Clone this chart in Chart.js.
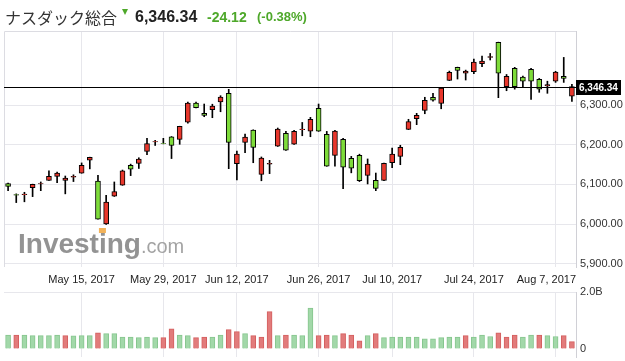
<!DOCTYPE html>
<html lang="ja">
<head>
<meta charset="UTF-8">
<title>ナスダック総合</title>
<script src="https://cdn.jsdelivr.net/npm/chart.js"></script>
<style>
  html, body { margin: 0; padding: 0; background: #fff; }
  #wrap { position: relative; width: 625px; height: 361px; overflow: hidden; }
  .h { position: absolute; white-space: nowrap; line-height: 16px; }
  #name { left: 5px; top: 7px; font: 16px 'Noto Sans CJK JP', sans-serif; line-height: 20px; color: #333; }
  #arrow { left: 122px; top: 9px; width: 0; height: 0; border-left: 3.5px solid transparent; border-right: 3.5px solid transparent; border-top: 6px solid #4ea82a; }
  #price { left: 135px; top: 8px; font: bold 16px 'Liberation Sans', Arial, sans-serif; color: #222; }
  #chg { left: 207px; top: 9px; font: bold 14px 'Liberation Sans', Arial, sans-serif; color: #4ea82a; }
  #pct { left: 257px; top: 9px; font: bold 13px 'Liberation Sans', Arial, sans-serif; color: #4ea82a; }
  #priceChart { position: absolute; left: 0; top: 0; }
  #volChart { position: absolute; left: 0; top: 287px; }
</style>
</head>
<body>
<div id="wrap">
  <canvas id="priceChart" width="625" height="290"></canvas>
  <canvas id="volChart" width="625" height="74"></canvas>
  <div class="h" id="name">ナスダック総合</div>
  <div class="h" id="arrow"></div>
  <div class="h" id="price">6,346.34</div>
  <div class="h" id="chg">-24.12</div>
  <div class="h" id="pct">(-0.38%)</div>
</div>
<script>
var dates = [
  '2017-05-02','2017-05-03','2017-05-04','2017-05-05','2017-05-08','2017-05-09','2017-05-10','2017-05-11','2017-05-12',
  '2017-05-15','2017-05-16','2017-05-17','2017-05-18','2017-05-19','2017-05-22','2017-05-23','2017-05-24','2017-05-25','2017-05-26',
  '2017-05-30','2017-05-31','2017-06-01','2017-06-02','2017-06-05','2017-06-06','2017-06-07','2017-06-08','2017-06-09',
  '2017-06-12','2017-06-13','2017-06-14','2017-06-15','2017-06-16','2017-06-19','2017-06-20','2017-06-21','2017-06-22','2017-06-23',
  '2017-06-26','2017-06-27','2017-06-28','2017-06-29','2017-06-30','2017-07-03','2017-07-05','2017-07-06','2017-07-07',
  '2017-07-10','2017-07-11','2017-07-12','2017-07-13','2017-07-14','2017-07-17','2017-07-18','2017-07-19','2017-07-20','2017-07-21',
  '2017-07-24','2017-07-25','2017-07-26','2017-07-27','2017-07-28','2017-07-31','2017-08-01','2017-08-02','2017-08-03','2017-08-04',
  '2017-08-07','2017-08-08','2017-08-09'
];
var open = [
  6102, 6074, 6074, 6091.5, 6101, 6110, 6120, 6110, 6118,
  6128, 6161, 6108, 6000, 6070, 6098, 6148, 6153, 6183, 6207,
  6203, 6220, 6213.5, 6257, 6305, 6279, 6288, 6308, 6329.5,
  6152, 6206, 6237, 6125, 6151, 6196, 6228.5, 6201, 6238, 6234,
  6291.5, 6226, 6173, 6213.5, 6165.5, 6173, 6122.5, 6110, 6110,
  6154.5, 6170.5, 6238.5, 6265.5, 6286.5, 6319.5, 6304, 6362, 6395, 6380,
  6384, 6404, 6420, 6458, 6346, 6392.5, 6370.5, 6390, 6365, 6348,
  6360, 6372, 6322
];
var high = [
  6103, 6076, 6080, 6100.5, 6106, 6134, 6131, 6121, 6124,
  6154, 6168.5, 6123, 6072, 6106, 6136, 6151, 6167, 6216, 6211,
  6216, 6220.5, 6246.5, 6307.5, 6307.5, 6302.5, 6302, 6323.5, 6339.5,
  6184, 6227, 6237.5, 6169, 6160.5, 6242, 6233.5, 6236, 6256, 6269,
  6302.5, 6233.5, 6236, 6216, 6170.5, 6176, 6164, 6128.5, 6153.5,
  6191.5, 6198.5, 6264, 6279, 6319.5, 6329.5, 6343.5, 6385.5, 6395.5, 6388,
  6416, 6423.5, 6430, 6458.5, 6377, 6395, 6373, 6392.5, 6367, 6360,
  6385, 6420, 6352
];
var low = [
  6084, 6054, 6056, 6069, 6084, 6110, 6104, 6076, 6107,
  6128, 6139, 6012, 5999, 6069.5, 6097.5, 6122, 6140, 6175, 6198,
  6202, 6165, 6201, 6254, 6292.5, 6270.5, 6268, 6283, 6139.5,
  6111, 6180, 6154.5, 6109, 6127, 6195.5, 6185.5, 6200.5, 6222.5, 6220,
  6233.5, 6145.5, 6145.5, 6089, 6129, 6107, 6101, 6084, 6109.5,
  6142, 6149.5, 6238, 6250.5, 6278, 6309.5, 6290.5, 6361.5, 6365.5, 6363,
  6379, 6396.5, 6413.5, 6318.5, 6336, 6340, 6344.5, 6314, 6332, 6329.5,
  6357, 6357, 6309
];
var close = [
  6095, 6072.5, 6075.5, 6100, 6102, 6120, 6128.5, 6116, 6120,
  6148, 6168, 6012, 6055, 6082, 6134, 6138, 6164, 6203, 6208,
  6202.5, 6198, 6246, 6305, 6293, 6274, 6297, 6320, 6206,
  6176, 6219, 6193, 6166, 6153, 6239.5, 6186, 6233.5, 6239.5, 6264,
  6234, 6146, 6234, 6143, 6140.5, 6109, 6151, 6090, 6153,
  6176, 6193.5, 6258, 6274, 6312, 6312, 6343, 6382.5, 6387.5, 6385.5,
  6408.5, 6411, 6422, 6380, 6372, 6346, 6360, 6360, 6340, 6351.5,
  6383, 6367, 6346.34
];
// volume in billions
var volume = [
  0.49, 0.49, 0.49, 0.47, 0.47, 0.47, 0.49, 0.47, 0.46,
  0.47, 0.47, 0.57, 0.54, 0.54, 0.42, 0.42, 0.40, 0.42, 0.40,
  0.40, 0.71, 0.49, 0.47, 0.40, 0.42, 0.42, 0.49, 0.68,
  0.61, 0.54, 0.47, 0.42, 1.31, 0.47, 0.49, 0.49, 0.47, 1.44,
  0.47, 0.49, 0.47, 0.54, 0.49, 0.29, 0.47, 0.54, 0.40,
  0.42, 0.42, 0.42, 0.42, 0.36, 0.36, 0.40, 0.42, 0.42, 0.47,
  0.42, 0.49, 0.44, 0.57, 0.42, 0.49, 0.42, 0.49, 0.49, 0.47,
  0.44, 0.47, 0.26
];
var priceTicks = [5900, 6000, 6100, 6200, 6300, 6400];
var volTicks = [0, 2.0];
var xTickDates = ['2017-05-15', '2017-05-30', '2017-06-12', '2017-06-26', '2017-07-10', '2017-07-24', '2017-08-07'];
var xTickText = ['May 15, 2017', 'May 29, 2017', 'Jun 12, 2017', 'Jun 26, 2017', 'Jul 10, 2017', 'Jul 24, 2017', 'Aug 7, 2017'];

var GRID = '#e7e7ec';
var UP_BODY = '#e8372c', DOWN_BODY = '#7edc3a';
var lastPrice = close[close.length - 1];

function fmt(v) {
  return v.toLocaleString('en-US', { minimumFractionDigits: 2, maximumFractionDigits: 2 });
}

function xGridColor(c) {
  return xTickDates.indexOf(dates[c.index]) >= 0 ? GRID : 'rgba(0,0,0,0)';
}

// keep the chart area where padding puts it
function fixY(s) {
  s.width = 49;
  s.paddingTop = 0;
  s.paddingBottom = 0;
}

var pricePanel = {
  id: 'pricePanel',
  beforeDatasetsDraw: function (chart) {
    var ctx = chart.ctx;
    ctx.save();
    ctx.fillStyle = 'rgba(120,120,120,0.8)';
    ctx.font = 'bold 28px "Liberation Sans", Arial, sans-serif';
    ctx.textBaseline = 'alphabetic';
    ctx.fillText('Investing', 18, 253);
    var w = ctx.measureText('Investing').width;
    var wi = ctx.measureText('Invest').width;
    ctx.fillStyle = 'rgba(140,140,140,0.8)';
    ctx.font = '20px "Liberation Sans", Arial, sans-serif';
    ctx.fillText('.com', 18 + w, 253);
    ctx.fillStyle = '#f3b35a';
    ctx.fillRect(18 + wi, 228, 7, 5);
    ctx.restore();
  },
  afterDraw: function (chart) {
    var ctx = chart.ctx, a = chart.chartArea;
    var y = Math.round(chart.scales.y.getPixelForValue(lastPrice));
    ctx.save();
    // panel border
    ctx.strokeStyle = '#dcdce2';
    ctx.lineWidth = 1;
    ctx.beginPath();
    ctx.moveTo(a.left + 0.5, a.bottom);
    ctx.lineTo(a.left + 0.5, a.top + 0.5);
    ctx.lineTo(a.right, a.top + 0.5);
    ctx.stroke();
    // current price line
    ctx.strokeStyle = '#000';
    ctx.beginPath();
    ctx.moveTo(a.left, y + 0.5);
    ctx.lineTo(a.right, y + 0.5);
    ctx.stroke();
    ctx.fillStyle = '#000';
    ctx.fillRect(a.right, y - 7, 45, 15);
    ctx.fillStyle = '#fff';
    ctx.font = 'bold 10px "Liberation Sans", Arial, sans-serif';
    ctx.textBaseline = 'middle';
    ctx.fillText(fmt(lastPrice), a.right + 3, y + 1);
    // date labels
    var xs = chart.scales.x;
    ctx.fillStyle = '#222';
    ctx.font = '11px "Liberation Sans", Arial, sans-serif';
    ctx.textAlign = 'left';
    for (var i = 0; i < xTickDates.length; i++) {
      var px = xs.getPixelForValue(dates.indexOf(xTickDates[i]));
      var tw = ctx.measureText(xTickText[i]).width;
      var lx = Math.min(px - tw / 2, a.right - tw);
      ctx.fillText(xTickText[i], lx, a.bottom + 13);
    }
    ctx.restore();
  }
};

new Chart(document.getElementById('priceChart'), {
  type: 'bar',
  data: {
    labels: dates,
    datasets: [
      {
        label: 'body',
        data: dates.map(function (d, i) { return [open[i], close[i]]; }),
        backgroundColor: dates.map(function (d, i) { return close[i] >= open[i] ? UP_BODY : DOWN_BODY; }),
        borderColor: '#000',
        borderWidth: 1,
        borderSkipped: false,
        barThickness: 5,
        grouped: false,
        order: 0
      },
      {
        label: 'wick',
        data: dates.map(function (d, i) { return [low[i], high[i]]; }),
        backgroundColor: '#000',
        borderWidth: 0,
        barThickness: 1,
        grouped: false,
        order: 1
      }
    ]
  },
  options: {
    responsive: false,
    animation: false,
    layout: { padding: { top: 31, left: 4, right: 0, bottom: 0 } },
    plugins: { legend: { display: false }, tooltip: { enabled: false } },
    scales: {
      x: {
        offset: true,
        grid: { offset: false, color: xGridColor, drawTicks: false },
        border: { display: false },
        ticks: { display: false, autoSkip: false },
        afterFit: function (s) { s.height = 23; }
      },
      y: {
        position: 'right',
        min: 5891.6,
        max: 6486.6,
        afterBuildTicks: function (s) { s.ticks = priceTicks.map(function (v) { return { value: v }; }); },
        grid: { color: GRID, drawTicks: false },
        border: { color: '#d0d0d6' },
        ticks: {
          padding: 4,
          color: '#333',
          font: { family: '"Liberation Sans", Arial, sans-serif', size: 11 },
          callback: function (v) { return v === 6400 ? null : fmt(v); }
        },
        afterFit: fixY
      }
    }
  },
  plugins: [pricePanel]
});

new Chart(document.getElementById('volChart'), {
  type: 'bar',
  data: {
    labels: dates,
    datasets: [{
      label: 'volume',
      data: volume,
      backgroundColor: dates.map(function (d, i) { return (i === 0 || close[i] >= close[i - 1]) ? '#a2d8a9' : '#e27b7b'; }),
      borderColor: dates.map(function (d, i) { return (i === 0 || close[i] >= close[i - 1]) ? '#86c68e' : '#d45f5f'; }),
      borderWidth: 1,
      borderSkipped: 'start',
      barThickness: 5
    }]
  },
  options: {
    responsive: false,
    animation: false,
    layout: { padding: { top: 5, left: 4, right: 0, bottom: 0 } },
    plugins: { legend: { display: false }, tooltip: { enabled: false } },
    scales: {
      x: {
        offset: true,
        grid: { offset: false, color: xGridColor, drawTicks: false },
        border: { display: false },
        ticks: { display: false, autoSkip: false },
        afterFit: function (s) { s.height = 4; }
      },
      y: {
        position: 'right',
        min: -0.28,
        max: 2.0,
        afterBuildTicks: function (s) { s.ticks = volTicks.map(function (v) { return { value: v }; }); },
        grid: { color: function (c) { return c.tick && c.tick.value === 2 ? GRID : 'rgba(0,0,0,0)'; }, drawTicks: false },
        border: { color: '#d0d0d6' },
        ticks: {
          padding: 4,
          color: '#333',
          font: { family: '"Liberation Sans", Arial, sans-serif', size: 11 },
          callback: function (v) { return v === 0 ? '0' : v.toFixed(1) + 'B'; }
        },
        afterFit: fixY
      }
    }
  }
});
</script>
</body>
</html>
